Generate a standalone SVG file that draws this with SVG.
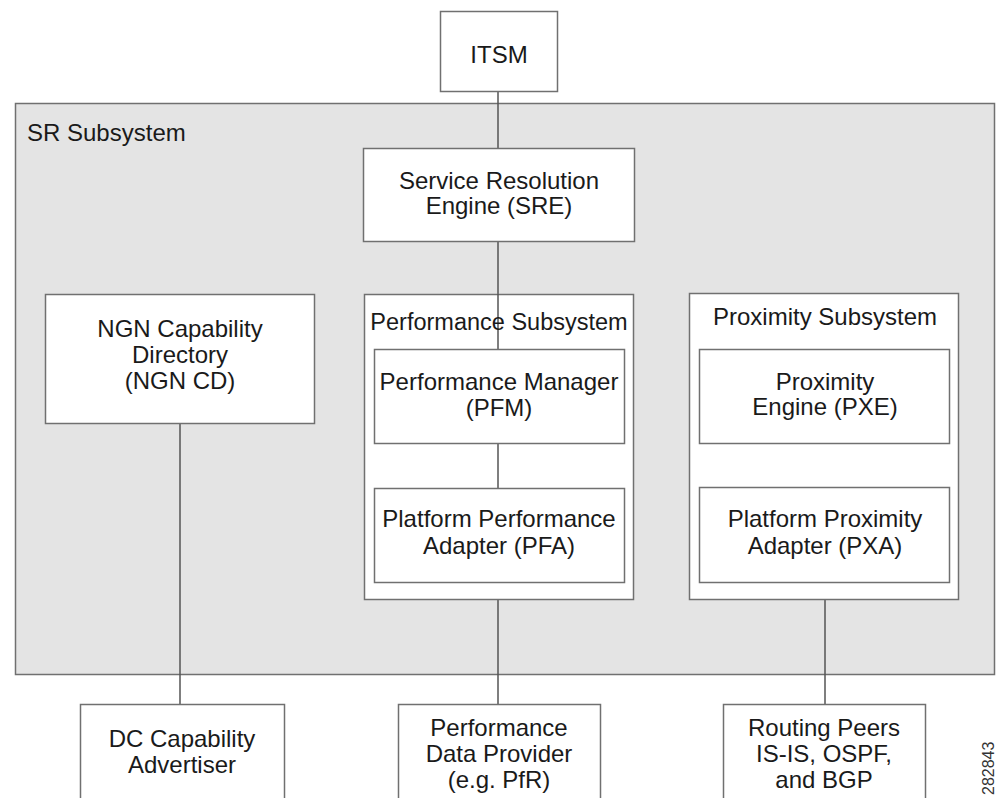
<svg xmlns="http://www.w3.org/2000/svg" width="997" height="798" viewBox="0 0 997 798">
<style>
.box{fill:#ffffff;stroke:#707070;stroke-width:1.5}
.sr{fill:#e4e4e4;stroke:#707070;stroke-width:1.5}
.ln{stroke:#555555;stroke-width:1.5;fill:none}
text{font-family:"Liberation Sans",Arial,sans-serif;font-size:24px;fill:#1a1a1a;text-anchor:middle}
</style>
<rect width="997" height="798" fill="#ffffff"/>
<g id="sr-subsystem">
<rect class="sr" x="15.5" y="103.5" width="979" height="571"/>
<text x="27" y="141" style="text-anchor:start">SR Subsystem</text>
</g>
<g id="connectors">
<line class="ln" x1="498" y1="92" x2="498" y2="148"/>
<line class="ln" x1="498" y1="242" x2="498" y2="294"/>
<line class="ln" x1="180" y1="424" x2="180" y2="704"/>
<line class="ln" x1="825" y1="444" x2="825" y2="487"/>
<line class="ln" x1="825" y1="583" x2="825" y2="704"/>
<line class="ln" x1="498" y1="583" x2="498" y2="704"/>
</g>
<g id="itsm">
<rect class="box" x="440.5" y="11.5" width="117" height="80"/>
<text x="499" y="63">ITSM</text>
</g>
<g id="sre">
<rect class="box" x="363.5" y="148.5" width="271" height="93"/>
<text x="499" y="189">Service Resolution</text>
<text x="499" y="214">Engine (SRE)</text>
</g>
<g id="ngn-cd">
<rect class="box" x="45.5" y="294.5" width="269" height="129"/>
<text x="180" y="337">NGN Capability</text>
<text x="180" y="363">Directory</text>
<text x="180" y="389">(NGN CD)</text>
</g>
<g id="performance-subsystem">
<rect class="box" x="364.5" y="294.5" width="269" height="305"/>
<line class="ln" x1="498" y1="294" x2="498" y2="349"/>
<line class="ln" x1="498" y1="444" x2="498" y2="488"/>
<text x="499" y="330" style="font-size:23.5px">Performance Subsystem</text>
</g>
<g id="pfm">
<rect class="box" x="374.5" y="349.5" width="250" height="94"/>
<text x="499" y="390">Performance Manager</text>
<text x="499" y="416">(PFM)</text>
</g>
<g id="pfa">
<rect class="box" x="374.5" y="488.5" width="250" height="94"/>
<text x="499" y="527">Platform Performance</text>
<text x="499" y="554">Adapter (PFA)</text>
</g>
<g id="proximity-subsystem">
<rect class="box" x="689.5" y="293.5" width="269" height="306"/>
<text x="825" y="325">Proximity Subsystem</text>
</g>
<g id="pxe">
<rect class="box" x="699.5" y="349.5" width="250" height="94"/>
<text x="825" y="390">Proximity</text>
<text x="825" y="415">Engine (PXE)</text>
</g>
<g id="pxa">
<rect class="box" x="699.5" y="487.5" width="250" height="95"/>
<text x="825" y="527">Platform Proximity</text>
<text x="825" y="554">Adapter (PXA)</text>
</g>
<g id="dc-advertiser">
<rect class="box" x="80.5" y="704.5" width="204" height="110"/>
<text x="182" y="747">DC Capability</text>
<text x="182" y="773">Advertiser</text>
</g>
<g id="perf-data-provider">
<rect class="box" x="398.5" y="704.5" width="202" height="110"/>
<text x="499" y="736">Performance</text>
<text x="499" y="762">Data Provider</text>
<text x="499" y="788">(e.g. PfR)</text>
</g>
<g id="routing-peers">
<rect class="box" x="723.5" y="704.5" width="202" height="110"/>
<text x="824" y="736">Routing Peers</text>
<text x="824" y="762">IS-IS, OSPF,</text>
<text x="824" y="788">and BGP</text>
</g>
<text x="0" y="0" transform="translate(994 795) rotate(-90)" style="font-size:16px;text-anchor:start;fill:#333">282843</text>
</svg>
